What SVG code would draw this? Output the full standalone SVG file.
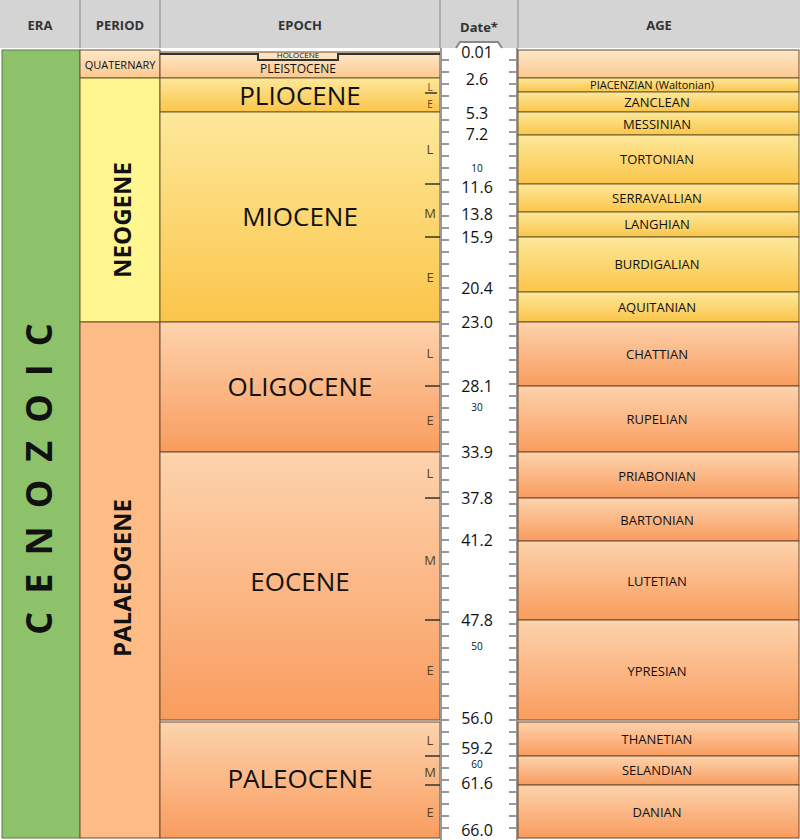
<svg xmlns="http://www.w3.org/2000/svg" width="800" height="840" viewBox="0 0 800 840">
<defs>
<linearGradient id="gy" x1="0" y1="0" x2="0" y2="1"><stop offset="0" stop-color="#fde89a"/><stop offset="1" stop-color="#fbc54a"/></linearGradient>
<linearGradient id="go" x1="0" y1="0" x2="0" y2="1"><stop offset="0" stop-color="#fdd3ad"/><stop offset="1" stop-color="#f99c5e"/></linearGradient>
<linearGradient id="gq" x1="0" y1="0" x2="0" y2="1"><stop offset="0" stop-color="#fde7c9"/><stop offset="1" stop-color="#fcc98e"/></linearGradient>
<style>
text{font-family:"Open Sans","Liberation Sans",sans-serif;fill:#111}
.h{font-size:13px;font-weight:bold;text-anchor:middle;fill:#333}
.a{font-size:13px;text-anchor:middle}
.d{font-size:16px;text-anchor:middle}
.ds{font-size:10px;text-anchor:middle}
.s{font-size:13px;text-anchor:middle;fill:#5a4020}
.y{fill:url(#gy);stroke:#6b5a30;stroke-width:1}
.o{fill:url(#go);stroke:#6b4a30;stroke-width:1}
.q{fill:url(#gq);stroke:#6b4a30;stroke-width:1}
.t{stroke:#999;stroke-width:2}
</style>
</defs>
<rect width="800" height="840" fill="#fff"/>
<g id="header">
<rect x="0" y="0" width="800" height="48" fill="#d4d4d4"/>
<g stroke="#888" stroke-width="1"><line x1="80" y1="0" x2="80" y2="48"/><line x1="160" y1="0" x2="160" y2="48"/><line x1="440" y1="0" x2="440" y2="48"/><line x1="518" y1="0" x2="518" y2="48"/></g>
<text class="h" x="40" y="30">ERA</text><text class="h" x="120" y="30">PERIOD</text><text class="h" x="300" y="30">EPOCH</text><text class="h" x="479" y="32">Date*</text><text class="h" x="659" y="30">AGE</text>
</g>
<g id="era"><rect x="2" y="50" width="78" height="788" fill="#8dc26a" stroke="#5a7a40"/>
<text transform="translate(52,470) rotate(-90)" text-anchor="middle" style="font-size:36px;font-weight:bold;letter-spacing:18px">CENOZOIC</text></g>
<g id="periods">
<rect class="q" x="80" y="50" width="80" height="28"/><text x="120" y="69" style="font-size:11px;text-anchor:middle">QUATERNARY</text>
<rect x="80" y="78" width="80" height="244" fill="#fff68f" stroke="#6b5a30"/><text transform="translate(131,220) rotate(-90)" text-anchor="middle" style="font-size:24px;font-weight:bold">NEOGENE</text>
<rect x="80" y="322" width="80" height="516" fill="#fdbb85" stroke="#6b4a30"/><text transform="translate(131,578) rotate(-90)" text-anchor="middle" style="font-size:24px;font-weight:bold">PALAEOGENE</text>
</g>
<g id="epochs">
<rect class="q" x="160" y="52" width="280" height="26"/>
<path d="M160 54 H258 V60 H338 V54 H440" fill="none" stroke="#333" stroke-width="2"/>
<text x="298" y="58" style="font-size:8px;text-anchor:middle">HOLOCENE</text>
<text x="298" y="73" style="font-size:12px;text-anchor:middle">PLEISTOCENE</text>
<rect class="y" x="160" y="78" width="280" height="34"/><text x="300" y="105" style="font-size:26px;text-anchor:middle">PLIOCENE</text>
<rect class="y" x="160" y="112" width="280" height="210"/><text x="300" y="226" style="font-size:26px;text-anchor:middle">MIOCENE</text>
<rect class="o" x="160" y="322" width="280" height="130"/><text x="300" y="396" style="font-size:26px;text-anchor:middle">OLIGOCENE</text>
<rect class="o" x="160" y="452" width="280" height="268"/><text x="300" y="591" style="font-size:26px;text-anchor:middle">EOCENE</text>
<rect class="o" x="160" y="722" width="280" height="116"/><text x="300" y="788" style="font-size:26px;text-anchor:middle">PALEOCENE</text>
<g stroke="#333" stroke-width="1.5"><line x1="425" y1="184" x2="440" y2="184"/><line x1="425" y1="237" x2="440" y2="237"/><line x1="425" y1="386" x2="440" y2="386"/><line x1="425" y1="498" x2="440" y2="498"/><line x1="425" y1="620" x2="440" y2="620"/><line x1="425" y1="756" x2="440" y2="756"/><line x1="425" y1="785" x2="440" y2="785"/><line x1="425" y1="93" x2="437" y2="93"/></g>
<text class="s" x="430" y="91" style="font-size:10px">L</text><text class="s" x="430" y="108" style="font-size:10px">E</text>
<text class="s" x="430" y="154">L</text><text class="s" x="430" y="218">M</text><text class="s" x="430" y="282">E</text>
<text class="s" x="430" y="358">L</text><text class="s" x="430" y="425">E</text>
<text class="s" x="430" y="478">L</text><text class="s" x="430" y="565">M</text><text class="s" x="430" y="675">E</text>
<text class="s" x="430" y="745">L</text><text class="s" x="430" y="777">M</text><text class="s" x="430" y="817">E</text>
</g>
<g id="scale">
<rect x="440" y="48" width="78" height="792" fill="#fff"/>
<path d="M456 48 L460 42 H498 L502 48" fill="#fff" stroke="#888" stroke-width="2"/>
<line x1="441" y1="48" x2="441" y2="840" stroke="#999" stroke-width="2"/>
<line x1="517" y1="48" x2="517" y2="840" stroke="#999" stroke-width="2"/>
<path id="tk" class="t" d="M441 60h8M441 72h8M441 84h8M441 96h8M441 108h8M441 120h8M441 132h8M441 144h8M441 156h8M441 168h8M441 180h8M441 192h8M441 204h8M441 216h8M441 228h8M441 240h8M441 252h8M441 264h8M441 276h8M441 288h8M441 300h8M441 312h8M441 324h8M441 336h8M441 348h8M441 360h8M441 372h8M441 384h8M441 396h8M441 408h8M441 420h8M441 432h8M441 444h8M441 456h8M441 468h8M441 480h8M441 492h8M441 504h8M441 516h8M441 528h8M441 540h8M441 552h8M441 564h8M441 576h8M441 588h8M441 600h8M441 612h8M441 624h8M441 636h8M441 648h8M441 660h8M441 672h8M441 684h8M441 696h8M441 708h8M441 720h8M441 732h8M441 744h8M441 756h8M441 768h8M441 780h8M441 792h8M441 804h8M441 816h8M441 828h8"/>
<use href="#tk" transform="translate(68,0)"/>
<text class="d" x="477" y="58">0.01</text><text class="d" x="477" y="85">2.6</text><text class="d" x="477" y="119">5.3</text><text class="d" x="477" y="140">7.2</text>
<text class="ds" x="477" y="172">10</text><text class="d" x="477" y="193">11.6</text><text class="d" x="477" y="220">13.8</text><text class="d" x="477" y="243">15.9</text>
<text class="d" x="477" y="294">20.4</text><text class="d" x="477" y="328">23.0</text><text class="d" x="477" y="392">28.1</text><text class="ds" x="477" y="411">30</text>
<text class="d" x="477" y="458">33.9</text><text class="d" x="477" y="504">37.8</text><text class="d" x="477" y="546">41.2</text><text class="d" x="477" y="626">47.8</text>
<text class="ds" x="477" y="650">50</text><text class="d" x="477" y="724">56.0</text><text class="d" x="477" y="754">59.2</text><text class="ds" x="477" y="768">60</text>
<text class="d" x="477" y="789">61.6</text><text class="d" x="477" y="836">66.0</text>
</g>
<g id="ages">
<rect class="q" x="518" y="50" width="281" height="28"/>
<rect class="y" x="518" y="78" width="281" height="14"/><text x="652" y="89" style="font-size:11px;text-anchor:middle">PIACENZIAN (Waltonian)</text>
<rect class="y" x="518" y="92" width="281" height="20"/><text class="a" x="657" y="107">ZANCLEAN</text>
<rect class="y" x="518" y="112" width="281" height="23"/><text class="a" x="657" y="129">MESSINIAN</text>
<rect class="y" x="518" y="135" width="281" height="49"/><text class="a" x="657" y="164">TORTONIAN</text>
<rect class="y" x="518" y="184" width="281" height="28"/><text class="a" x="657" y="203">SERRAVALLIAN</text>
<rect class="y" x="518" y="212" width="281" height="25"/><text class="a" x="657" y="229">LANGHIAN</text>
<rect class="y" x="518" y="237" width="281" height="55"/><text class="a" x="657" y="269">BURDIGALIAN</text>
<rect class="y" x="518" y="292" width="281" height="30"/><text class="a" x="657" y="312">AQUITANIAN</text>
<rect class="o" x="518" y="322" width="281" height="64"/><text class="a" x="657" y="359">CHATTIAN</text>
<rect class="o" x="518" y="386" width="281" height="66"/><text class="a" x="657" y="424">RUPELIAN</text>
<rect class="o" x="518" y="452" width="281" height="46"/><text class="a" x="657" y="481">PRIABONIAN</text>
<rect class="o" x="518" y="498" width="281" height="43"/><text class="a" x="657" y="525">BARTONIAN</text>
<rect class="o" x="518" y="541" width="281" height="79"/><text class="a" x="657" y="586">LUTETIAN</text>
<rect class="o" x="518" y="620" width="281" height="100"/><text class="a" x="657" y="676">YPRESIAN</text>
<rect class="o" x="518" y="722" width="281" height="34"/><text class="a" x="657" y="744">THANETIAN</text>
<rect class="o" x="518" y="756" width="281" height="29"/><text class="a" x="657" y="775">SELANDIAN</text>
<rect class="o" x="518" y="785" width="281" height="53"/><text class="a" x="657" y="817">DANIAN</text>
</g>
</svg>
